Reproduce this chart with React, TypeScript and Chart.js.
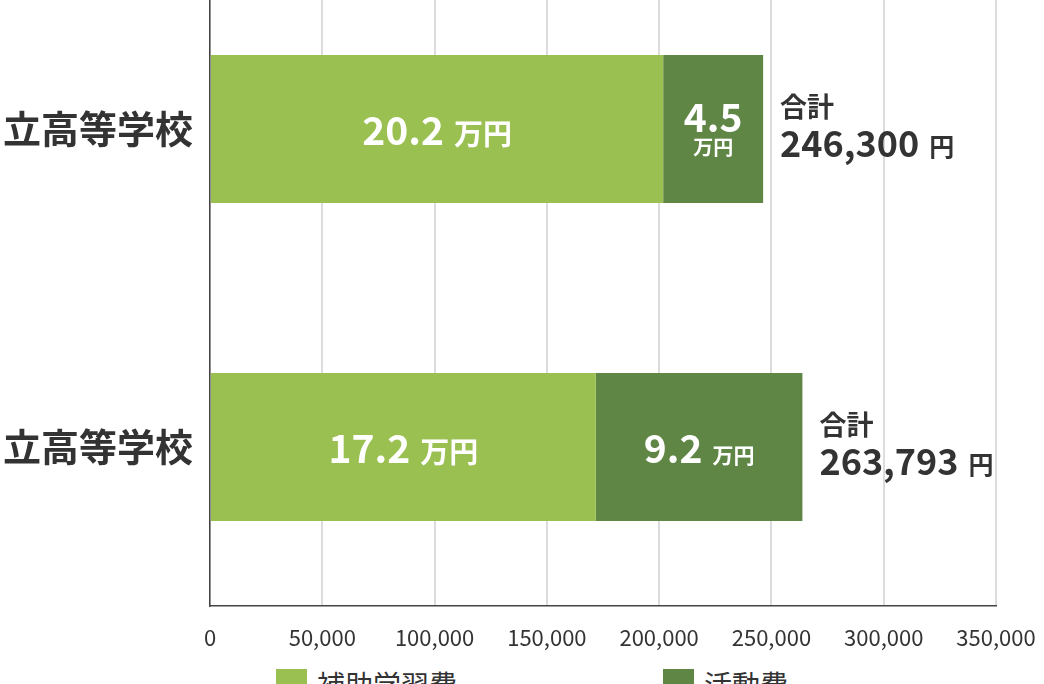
import { useEffect, useRef } from 'react';
import { Chart, registerables } from 'chart.js';
import type { Plugin } from 'chart.js';

Chart.register(...registerables);

const categories = ['立高等学校', '立高等学校'];
const seriesNames = ['補助学習費', '活動費'];
const studyValues = [201800, 171800];
const activityValues = [44500, 91993];
const xTicks = [0, 50000, 100000, 150000, 200000, 250000, 300000, 350000];

const LIGHT = '#9bc052';
const DARK = '#5f8645';
const TEXT = '#333333';
const FONT = '"Noto Sans CJK JP", "Noto Sans", sans-serif';

const fmt = (n: number) => n.toLocaleString('en-US');

// segment labels (xx.x 万円) and totals to the right of each bar
const labelPlugin: Plugin<'bar'> = {
  id: 'barLabels',
  afterDatasetsDraw(chart) {
    const ctx = chart.ctx;
    const metas = chart.data.datasets.map((_, d) => chart.getDatasetMeta(d));
    ctx.save();

    metas.forEach((meta, d) => {
      meta.data.forEach((el: any, i) => {
        const v = chart.data.datasets[d].data[i] as number;
        const { x, base, y } = el.getProps(['x', 'base', 'y'], true);
        const left = Math.min(x, base);
        const right = Math.max(x, base);
        const w = right - left;
        const cx = (left + right) / 2;
        const num = (v / 10000).toFixed(1);
        ctx.fillStyle = '#ffffff';
        ctx.textBaseline = 'alphabetic';

        if (w < 150) {
          ctx.textAlign = 'center';
          ctx.font = `bold 39px ${FONT}`;
          ctx.fillText(num, cx, y + 3);
          ctx.font = `bold 20px ${FONT}`;
          ctx.fillText('万円', cx, y + 26);
        } else {
          const unitSize = w > 300 ? 29 : 21;
          ctx.textAlign = 'left';
          ctx.font = `bold 39px ${FONT}`;
          const nw = ctx.measureText(num).width;
          ctx.font = `bold ${unitSize}px ${FONT}`;
          const uw = ctx.measureText('万円').width;
          const gap = 10;
          const start = cx - (nw + gap + uw) / 2;
          ctx.font = `bold 39px ${FONT}`;
          ctx.fillText(num, start, y + 16);
          ctx.font = `bold ${unitSize}px ${FONT}`;
          ctx.fillText('万円', start + nw + gap, y + 16);
        }
      });
    });

    // totals
    const last = metas[metas.length - 1];
    last.data.forEach((el: any, i) => {
      const { x, y } = el.getProps(['x', 'y'], true);
      const total = chart.data.datasets.reduce((s, ds) => s + (ds.data[i] as number), 0);
      const tx = x + 17;
      ctx.fillStyle = TEXT;
      ctx.textAlign = 'left';
      ctx.textBaseline = 'alphabetic';
      ctx.font = `bold 27px ${FONT}`;
      ctx.fillText('合計', tx, y - 12);
      ctx.font = `bold 36px ${FONT}`;
      const t = fmt(total);
      ctx.fillText(t, tx, y + 28);
      const tw = ctx.measureText(t).width;
      ctx.font = `bold 25px ${FONT}`;
      ctx.fillText('円', tx + tw + 10, y + 27);
    });

    ctx.restore();
  },
};

export default function App() {
  const canvasRef = useRef<HTMLCanvasElement>(null);
  const chartRef = useRef<Chart | null>(null);

  useEffect(() => {
    if (!canvasRef.current) return;
    if (chartRef.current) chartRef.current.destroy();

    chartRef.current = new Chart(canvasRef.current, {
      type: 'bar',
      data: {
        labels: categories,
        datasets: [
          {
            label: seriesNames[0],
            data: studyValues,
            backgroundColor: LIGHT,
            barPercentage: 0.465,
            categoryPercentage: 1,
          },
          {
            label: seriesNames[1],
            data: activityValues,
            backgroundColor: DARK,
            barPercentage: 0.465,
            categoryPercentage: 1,
          },
        ],
      },
      options: {
        indexAxis: 'y',
        responsive: false,
        animation: false,
        layout: { padding: { top: 0, right: 48, bottom: 0, left: 0 } },
        scales: {
          x: {
            stacked: true,
            min: xTicks[0],
            max: xTicks[xTicks.length - 1],
            afterBuildTicks: (s) => {
              s.ticks = xTicks.map((value) => ({ value }));
            },
            afterFit: (s: any) => {
              s.height = 54;
              s.paddingLeft = 0;
              s.paddingRight = 0;
            },
            ticks: {
              color: TEXT,
              font: { family: FONT, size: 22 },
              padding: 18,
              maxRotation: 0,
              autoSkip: false,
              callback: (v) => fmt(Number(v)),
            },
            grid: { color: '#dcdcdc', lineWidth: 2, drawTicks: false },
            border: { color: '#444444', width: 1.5 },
          },
          y: {
            stacked: true,
            afterFit: (s: any) => {
              s.width = 210;
              s.paddingTop = 0;
              s.paddingBottom = 0;
            },
            ticks: {
              color: TEXT,
              font: { family: FONT, size: 38, weight: 'bold' },
              padding: 17,
            },
            grid: { display: false, drawTicks: false },
            border: { color: '#444444', width: 1.5 },
          },
        },
        plugins: {
          legend: { display: false },
          tooltip: { enabled: false },
        },
      },
      plugins: [labelPlugin],
    });

    return () => {
      chartRef.current?.destroy();
      chartRef.current = null;
    };
  }, []);

  const legend = [
    { name: seriesNames[0], color: LIGHT, left: 276 },
    { name: seriesNames[1], color: DARK, left: 663 },
  ];

  return (
    <div style={{ position: 'fixed', inset: 0, overflow: 'hidden', background: '#fff' }}>
      <canvas
        ref={canvasRef}
        width={1044}
        height={690}
        style={{ position: 'absolute', left: 0, top: -30, width: 1044, height: 690 }}
      />
      {legend.map((l) => (
        <div
          key={l.name}
          style={{
            position: 'absolute',
            top: 669,
            left: l.left,
            display: 'flex',
            alignItems: 'flex-start',
            fontFamily: FONT,
            fontSize: 28,
            lineHeight: '34px',
            color: TEXT,
            whiteSpace: 'nowrap',
          }}
        >
          <span style={{ width: 31, height: 30, background: l.color, marginRight: 10 }} />
          <span style={{ marginTop: -2 }}>{l.name}</span>
        </div>
      ))}
    </div>
  );
}
